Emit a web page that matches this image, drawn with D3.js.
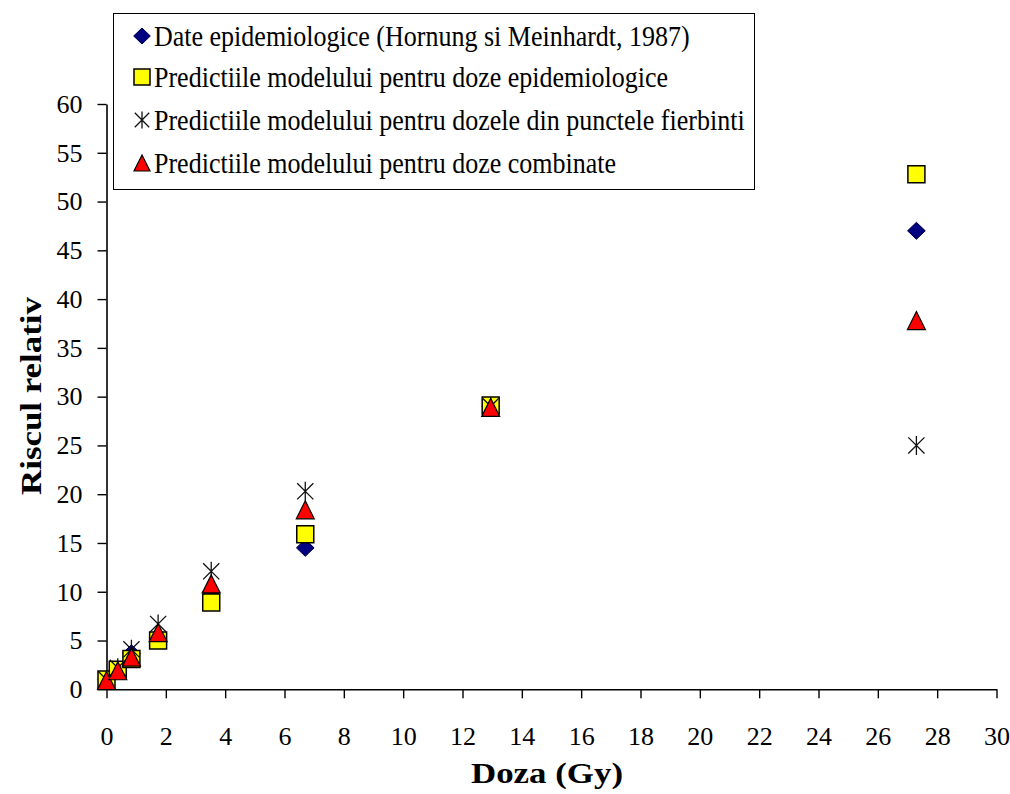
<!DOCTYPE html>
<html>
<head>
<meta charset="utf-8">
<script src="https://cdn.jsdelivr.net/npm/d3@7"></script>
<style>
  html, body { margin: 0; padding: 0; background: #fff; }
  svg { display: block; }
  text { font-family: "Liberation Serif", "Times New Roman", serif; }
</style>
</head>
<body>
<svg id="chart" width="1010" height="794"></svg>
<script>
// Dose (Gy) for each observation group
const doses = [0.0, 0.38, 0.84, 1.74, 3.53, 6.7, 12.95, 27.3];
// Relative risk, epidemiological data
const epiData = [1.0, 2.0, 3.7, 5.4, 10.0, 14.5, 29.0, 47.0];
// Model predictions for epidemiological doses
const predEpi = [1.0, 2.0, 3.1, 5.0, 8.9, 15.9, 29.1, 52.8];
// Model predictions for hot-spot doses
const predHot = [1.0, 2.2, 4.1, 6.7, 12.1, 20.3, 29.0, 25.0];
// Model predictions for combined doses
const predComb = [0.9, 1.9, 3.3, 5.8, 10.8, 18.4, 28.9, 37.8];

const xTicks = d3.range(0, 31, 2);
const yTicks = d3.range(0, 61, 5);

const seriesNames = [
  "Date epidemiologice (Hornung si Meinhardt, 1987)",
  "Predictiile modelului pentru doze epidemiologice",
  "Predictiile modelului pentru dozele din punctele fierbinti",
  "Predictiile modelului pentru doze combinate"
];

const svg = d3.select("#chart");
const font = "'Liberation Serif', 'Times New Roman', serif";

const x = d3.scaleLinear().domain([0, 30]).range([106.5, 996.5]);
const y = d3.scaleLinear().domain([0, 60]).range([689.3, 104]);

// Axes
const xAxis = svg.append("g")
  .attr("transform", `translate(0,${y(0)})`)
  .call(d3.axisBottom(x).tickValues(xTicks).tickSize(9).tickSizeOuter(0).tickPadding(28).tickFormat(d3.format("d")));
const yAxis = svg.append("g")
  .attr("transform", `translate(${x(0)},0)`)
  .call(d3.axisLeft(y).tickValues(yTicks).tickSize(9).tickSizeOuter(0).tickPadding(15).tickFormat(d3.format("d")));

[xAxis, yAxis].forEach(g => {
  g.attr("font-family", null).attr("font-size", null);
  g.selectAll("path.domain").attr("stroke", "#000").attr("stroke-width", 1.6);
  g.selectAll(".tick line").attr("stroke", "#000").attr("stroke-width", 1.4);
  g.selectAll("text").style("font-family", font).attr("font-size", 26).attr("fill", "#000");
});

// Axis titles (bold, slightly widened)
svg.append("text")
  .attr("x", 547).attr("y", 783)
  .attr("text-anchor", "middle")
  .attr("font-weight", "bold").attr("font-size", 30)
  .attr("textLength", 152).attr("lengthAdjust", "spacingAndGlyphs")
  .text("Doza (Gy)");
svg.append("text")
  .attr("transform", `translate(41,396) rotate(-90)`)
  .attr("text-anchor", "middle")
  .attr("font-weight", "bold").attr("font-size", 30)
  .attr("textLength", 198).attr("lengthAdjust", "spacingAndGlyphs")
  .text("Riscul relativ");

// Marker shapes
const shapes = {
  diamond: s => `M0,${-s * 0.5}L${s * 0.52},0L0,${s * 0.5}L${-s * 0.52},0Z`,
  square: s => `M${-s / 2},${-s / 2}h${s}v${s}h${-s}Z`,
  triangle: s => `M0,${-s / 2}L${s / 2},${s / 2}L${-s / 2},${s / 2}Z`,
  star: s => {
    const r = s / 2, d = r * 0.85;
    return `M0,${-r}V${r}M${-d},${-d}L${d},${d}M${-d},${d}L${d},${-d}`;
  }
};

const styles = {
  diamond: { fill: "#000080", stroke: "#000040", sw: 1 },
  square: { fill: "#FFFF00", stroke: "#000", sw: 1.5 },
  star: { fill: "none", stroke: "#111", sw: 1.3 },
  triangle: { fill: "#FF0000", stroke: "#000", sw: 1.2 }
};

function drawSeries(values, kind, size) {
  const st = styles[kind];
  svg.append("g").selectAll("path")
    .data(values.map((v, i) => ({ d: doses[i], v })))
    .join("path")
    .attr("transform", p => `translate(${x(p.d)},${y(p.v)})`)
    .attr("d", shapes[kind](size))
    .attr("fill", st.fill)
    .attr("stroke", st.stroke)
    .attr("stroke-width", st.sw);
}

drawSeries(epiData, "diamond", 17);
drawSeries(predEpi, "square", 17);
drawSeries(predHot, "star", 19);
drawSeries(predComb, "triangle", 18);

// Legend
const legend = svg.append("g");
legend.append("rect")
  .attr("x", 113.5).attr("y", 13.5).attr("width", 641).attr("height", 176)
  .attr("fill", "#fff").attr("stroke", "#000").attr("stroke-width", 1);

const legendKinds = [
  { kind: "diamond", size: 16 },
  { kind: "square", size: 16 },
  { kind: "star", size: 17 },
  { kind: "triangle", size: 16 }
];
const legendY = [36, 77, 120, 163];
legendKinds.forEach((k, i) => {
  const st = styles[k.kind];
  legend.append("path")
    .attr("transform", `translate(142,${legendY[i]})`)
    .attr("d", shapes[k.kind](k.size))
    .attr("fill", st.fill).attr("stroke", st.stroke).attr("stroke-width", st.sw);
  const t = legend.append("text")
    .attr("x", 154).attr("y", legendY[i])
    .attr("dy", "0.35em")
    .attr("font-size", 26)
    .text(seriesNames[i]);
  // taller glyphs at the same run width
  const w = t.node().getComputedTextLength();
  t.attr("font-size", 28.5)
    .attr("textLength", w).attr("lengthAdjust", "spacingAndGlyphs");
});
</script>
</body>
</html>
